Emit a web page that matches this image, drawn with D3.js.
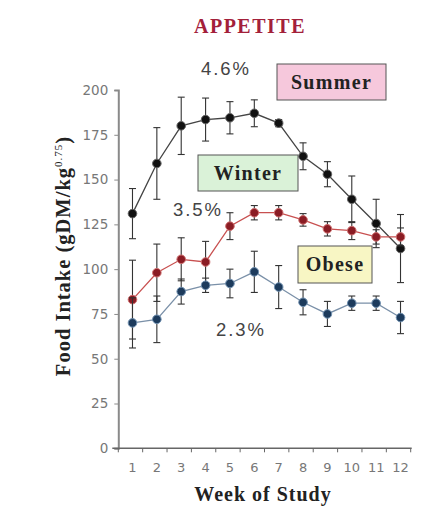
<!DOCTYPE html>
<html>
<head>
<meta charset="utf-8">
<script src="https://cdn.jsdelivr.net/npm/d3@7"></script>
<style>
  body { margin: 0; background: #fff; }
  svg { display: block; }
</style>
</head>
<body>
<svg id="chart" width="443" height="523"></svg>
<script>
// weeks on the x axis
const weeks = [1, 2, 3, 4, 5, 6, 7, 8, 9, 10, 11, 12];
const yTicks = [0, 25, 50, 75, 100, 125, 150, 175, 200];

// Summer (black)
const summerMean = [131, 159, 180, 183.5, 184.5, 187, 181.5, 163, 153, 139, 125.5, 111.5];
const summerErr  = [14, 20, 16, 12, 9, 7.5, 2, 7.5, 7, 13, 13.5, 19];
// Winter (red)
const winterMean = [83, 98, 105.5, 104, 124, 131.5, 131.5, 127.5, 122.5, 121.5, 118, 118];
const winterErr  = [22, 16, 12, 11.5, 7.5, 4, 4, 3.5, 4, 5, 4, 5];
// Obese (blue)
const obeseMean = [70, 72, 87.5, 91, 92, 98.5, 90, 81.5, 75, 81, 81, 73];
const obeseErr  = [14, 13, 7, 4, 8, 11.5, 12, 7, 7, 4, 4, 9];

const series = [
  {name: 'Summer', mean: summerMean, err: summerErr, line: '#444', dot: '#111', halo: '#666'},
  {name: 'Winter', mean: winterMean, err: winterErr, line: '#c85050', dot: '#8a1c24', halo: '#d07070'},
  {name: 'Obese', mean: obeseMean, err: obeseErr, line: '#7a90a8', dot: '#1d3b5c', halo: '#7090b0'}
];

const svg = d3.select('#chart');
const serif = '"Liberation Serif", "Times New Roman", serif';
const sans = '"DejaVu Sans", Arial, sans-serif';

const x = d3.scaleBand()
  .domain(weeks)
  .range([118.3, 410.7]);

const y = d3.scaleLinear()
  .domain([0, 200])
  .range([448.3, 90]);

const axisColor = '#8a8a8a';

// y axis
const yAxis = svg.append('g')
  .attr('transform', 'translate(118.3,0)')
  .call(d3.axisLeft(y).tickValues(yTicks).tickSize(4).tickPadding(6));
yAxis.select('.domain').attr('stroke', axisColor).attr('stroke-width', 2);
yAxis.selectAll('.tick line').attr('stroke', axisColor);
yAxis.selectAll('.tick text')
  .attr('fill', '#777')
  .attr('font-family', sans)
  .attr('font-size', 13.5);

// x axis, ticks on band edges
const xAxis = svg.append('g')
  .attr('transform', `translate(0,${y(0)})`);
xAxis.append('line')
  .attr('x1', x.range()[0] - 6).attr('x2', x.range()[1] + 1)
  .attr('stroke', '#666').attr('stroke-width', 1.5);
xAxis.selectAll('.edge')
  .data(weeks.concat([13]))
  .join('line')
  .attr('class', 'edge')
  .attr('x1', d => d <= 12 ? x(d) : x.range()[1])
  .attr('x2', d => d <= 12 ? x(d) : x.range()[1])
  .attr('y1', 0).attr('y2', 4)
  .attr('stroke', '#666');
xAxis.selectAll('.xlab')
  .data(weeks)
  .join('text')
  .attr('class', 'xlab')
  .attr('x', d => x(d) + x.bandwidth() / 2 + 2)
  .attr('y', 24)
  .attr('text-anchor', 'middle')
  .attr('fill', '#777')
  .attr('font-family', sans)
  .attr('font-size', 13)
  .text(d => d);

const cx = d => x(d) + x.bandwidth() / 2 + 2;

// lines, error bars, dots
series.forEach(s => {
  const pts = weeks.map((w, i) => ({w, m: s.mean[i], e: s.err[i]}));
  const g = svg.append('g');

  g.append('path')
    .datum(pts)
    .attr('fill', 'none')
    .attr('stroke', s.line)
    .attr('stroke-width', 1.3)
    .attr('d', d3.line().x(d => cx(d.w)).y(d => y(d.m)));

  const eb = g.selectAll('.eb')
    .data(pts)
    .join('g')
    .attr('stroke', '#333')
    .attr('stroke-width', 1.1);
  eb.append('line')
    .attr('x1', d => cx(d.w)).attr('x2', d => cx(d.w))
    .attr('y1', d => y(d.m + d.e)).attr('y2', d => y(d.m - d.e));
  eb.append('line')
    .attr('x1', d => cx(d.w) - 3.5).attr('x2', d => cx(d.w) + 3.5)
    .attr('y1', d => y(d.m + d.e)).attr('y2', d => y(d.m + d.e));
  eb.append('line')
    .attr('x1', d => cx(d.w) - 3.5).attr('x2', d => cx(d.w) + 3.5)
    .attr('y1', d => y(d.m - d.e)).attr('y2', d => y(d.m - d.e));

  g.selectAll('circle')
    .data(pts)
    .join('circle')
    .attr('cx', d => cx(d.w))
    .attr('cy', d => y(d.m))
    .attr('r', 4.3)
    .attr('fill', s.dot)
    .attr('stroke', s.halo)
    .attr('stroke-width', 1);
});

// title
svg.append('text')
  .attr('x', 250).attr('y', 33)
  .attr('text-anchor', 'middle')
  .attr('fill', '#a3203a')
  .attr('font-family', serif)
  .attr('font-weight', 'bold')
  .attr('font-size', 20)
  .attr('letter-spacing', 1.5)
  .text('APPETITE');

// percentage notes
const notes = [
  {t: '4.6%', x: 226, y: 75},
  {t: '3.5%', x: 198, y: 216},
  {t: '2.3%', x: 241, y: 336}
];
svg.selectAll('.note')
  .data(notes)
  .join('text')
  .attr('class', 'note')
  .attr('x', d => d.x).attr('y', d => d.y)
  .attr('text-anchor', 'middle')
  .attr('fill', '#444')
  .attr('font-family', 'Arial, "Liberation Sans", sans-serif')
  .attr('font-size', 18.5)
  .attr('letter-spacing', 2)
  .text(d => d.t);

// series label boxes
const boxes = [
  {t: 'Summer', x: 277, y: 64, w: 109, h: 36, fill: '#f6c8dc'},
  {t: 'Winter', x: 198, y: 155, w: 100, h: 36, fill: '#daf2d8'},
  {t: 'Obese', x: 298, y: 246, w: 74, h: 37, fill: '#f8f6c4'}
];
const bg = svg.selectAll('.box')
  .data(boxes)
  .join('g')
  .attr('class', 'box');
bg.append('rect')
  .attr('x', d => d.x).attr('y', d => d.y)
  .attr('width', d => d.w).attr('height', d => d.h)
  .attr('fill', d => d.fill)
  .attr('stroke', '#555')
  .attr('stroke-width', 1);
bg.append('text')
  .attr('x', d => d.x + d.w / 2).attr('y', d => d.y + d.h / 2 + 6.5)
  .attr('text-anchor', 'middle')
  .attr('fill', '#222')
  .attr('font-family', serif)
  .attr('font-weight', 'bold')
  .attr('font-size', 20)
  .attr('letter-spacing', 1.3)
  .text(d => d.t);

// axis titles
svg.append('text')
  .attr('x', 263).attr('y', 501)
  .attr('text-anchor', 'middle')
  .attr('fill', '#222')
  .attr('font-family', serif)
  .attr('font-weight', 'bold')
  .attr('font-size', 20)
  .attr('letter-spacing', 1)
  .text('Week of Study');

const yl = svg.append('text')
  .attr('transform', 'translate(70,256) rotate(-90)')
  .attr('text-anchor', 'middle')
  .attr('fill', '#222')
  .attr('font-family', serif)
  .attr('font-weight', 'bold')
  .attr('font-size', 20.5)
  .attr('letter-spacing', 1);
yl.append('tspan').text('Food Intake (gDM/kg');
yl.append('tspan').attr('font-size', 11).attr('dy', -8).attr('font-weight', 'normal').text('0.75');
yl.append('tspan').attr('dy', 8).text(')');
</script>
</body>
</html>
